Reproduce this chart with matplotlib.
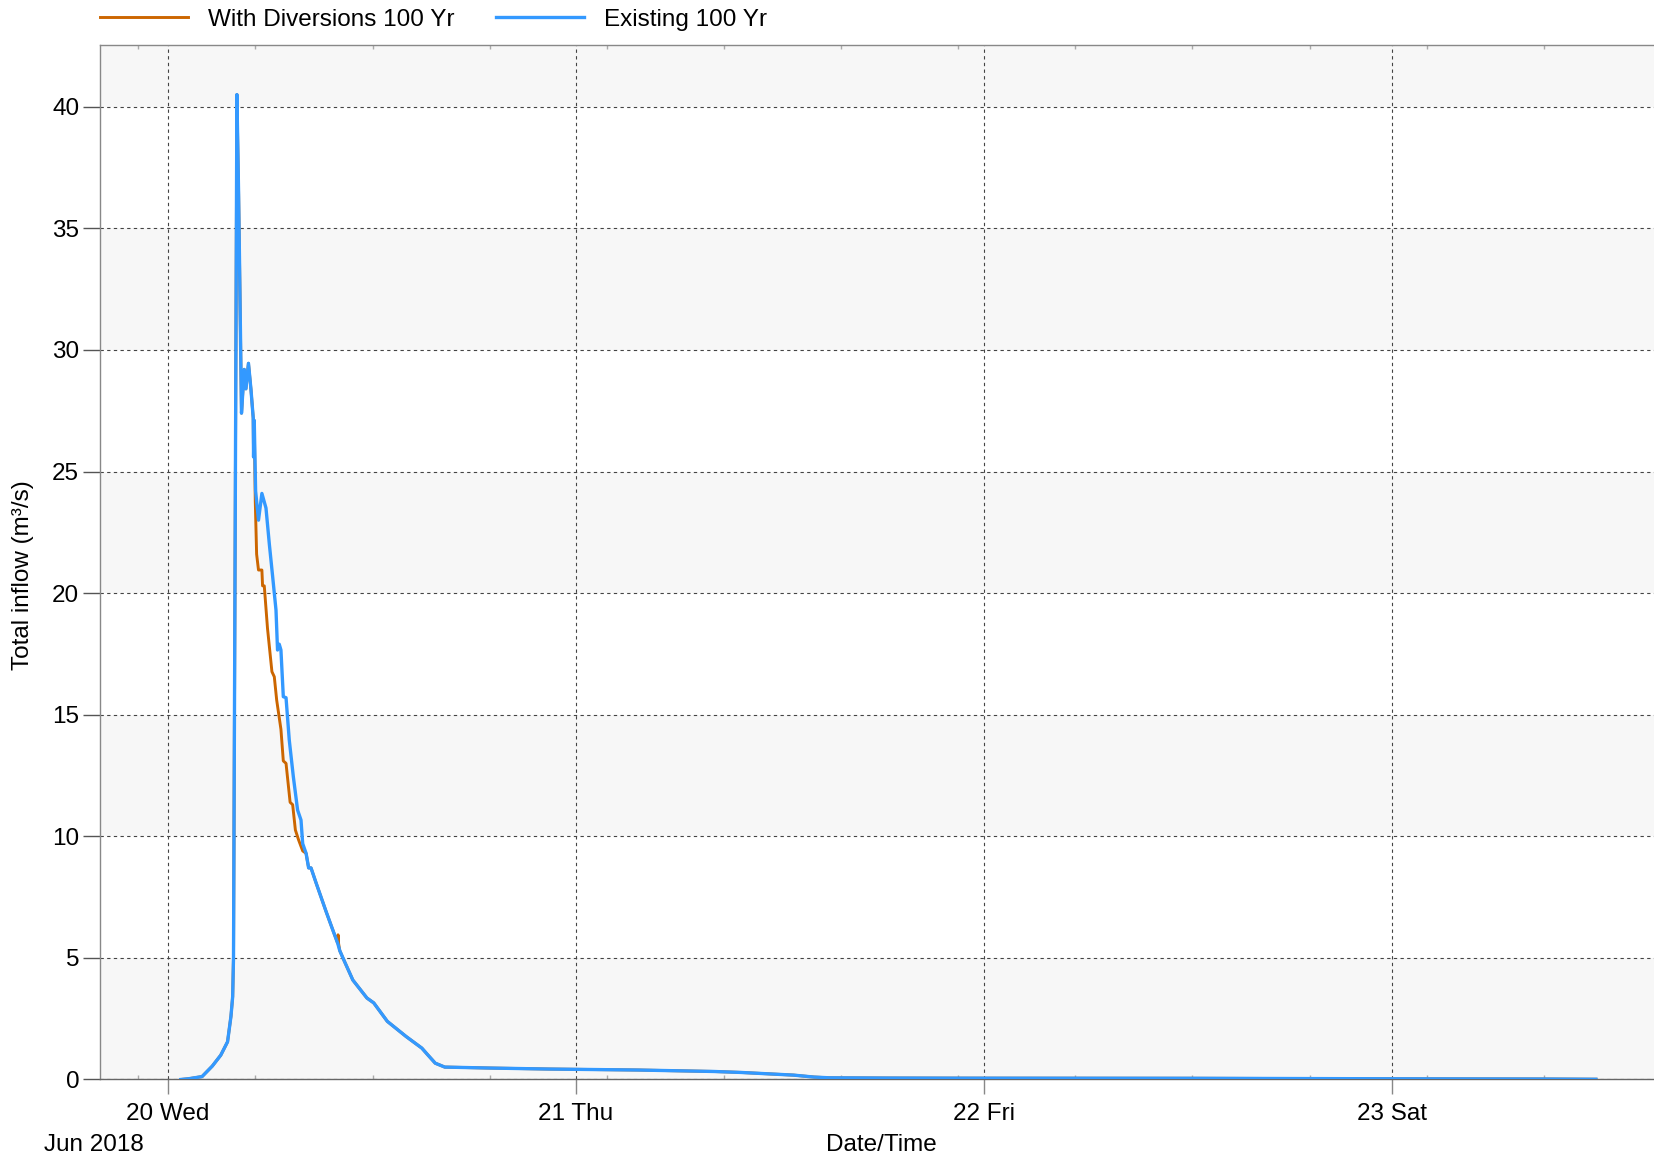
import numpy as np
import pandas as pd
import matplotlib
matplotlib.use('Agg')
from matplotlib import pyplot as plt
import matplotlib.dates as mdates
from matplotlib.ticker import FixedLocator

plt.rcParams['font.family'] = ['Liberation Sans', 'DejaVu Sans']

start = pd.Timestamp('2018-06-20 00:00')

# Existing 100 Yr total inflow (m3/s), time in hours from 20 Jun 00:00
hours_existing = [0.75, 1.2, 2.0, 2.6, 3.1, 3.5, 3.7, 3.8, 3.85, 4.05,
                  4.15, 4.23, 4.32, 4.48, 4.58, 4.73, 4.88, 5.01, 5.03, 5.07,
                  5.15, 5.32, 5.52, 5.76, 5.96, 6.15, 6.35, 6.44, 6.54, 6.64,
                  6.78, 6.94, 7.13, 7.37, 7.62, 7.82, 7.92, 8.12, 8.27, 8.41,
                  8.71, 9.30, 9.69, 9.98, 10.1, 10.35, 10.87, 11.7, 12.1, 12.9,
                  14.0, 14.93, 15.27, 15.72, 16.28, 19.0, 22.4, 27.6, 32.1, 33.7,
                  36.8, 38.0, 38.9, 42.3, 46.6, 60.0, 72.0, 81.0, 84.0]
flow_existing = [0.0, 0.03, 0.12, 0.55, 1.0, 1.55, 2.6, 3.4, 5.0, 40.5,
                 36.4, 32.3, 27.4, 29.2, 28.4, 29.45, 28.35, 27.2, 25.6, 27.1,
                 24.2, 23.0, 24.1, 23.5, 22.0, 20.7, 19.3, 17.66, 17.9, 17.66,
                 15.74, 15.7, 13.96, 12.45, 11.08, 10.67, 9.7, 9.3, 8.7, 8.7,
                 8.08, 6.9, 6.15, 5.6, 5.3, 4.9, 4.09, 3.35, 3.15, 2.39,
                 1.77, 1.29, 1.02, 0.67, 0.51, 0.47, 0.43, 0.39, 0.33, 0.29,
                 0.18, 0.1, 0.07, 0.06, 0.055, 0.05, 0.03, 0.02, 0.01]

# With Diversions 100 Yr: lower on the falling limb, otherwise the same run
hours_diverted = [5.13, 5.21, 5.32, 5.52, 5.56, 5.66, 5.85, 6.11, 6.25, 6.39,
                  6.64, 6.78, 6.94, 7.18, 7.33, 7.49, 7.68, 7.92]
flow_diverted = [23.8, 21.6, 20.95, 20.95, 20.3, 20.3, 18.55, 16.77, 16.56, 15.6,
                 14.4, 13.1, 13.0, 11.4, 11.3, 10.26, 9.85, 9.4]
hours_spike = [10.0, 10.03]
flow_spike = [5.95, 5.6]

h_e = np.array(hours_existing)
q_e = np.array(flow_existing)
keep = (h_e <= 5.07) | (h_e >= 8.12)
h_d = np.concatenate([h_e[keep], hours_diverted, hours_spike])
q_d = np.concatenate([q_e[keep], flow_diverted, flow_spike])
order = np.argsort(h_d)
h_d, q_d = h_d[order], q_d[order]

t_e = (start + pd.to_timedelta(h_e, unit='h')).values
t_d = (start + pd.to_timedelta(h_d, unit='h')).values

fig = plt.figure(figsize=(16.54, 11.62), dpi=100)
ax = fig.add_axes([0.0605, 0.071, 0.9455, 0.8905])

ymax = 42.55
# alternating shaded bands between the gridlines
ax.set_facecolor('white')
for lo in [0, 10, 20, 30, 40]:
    ax.axhspan(lo, min(lo + 5, ymax), color='#f7f7f7', zorder=0, lw=0)

ax.plot(t_d, q_d, color='#cc6600', lw=2.1, label='With Diversions 100 Yr', zorder=3)
ax.plot(t_e, q_e, color='#3399ff', lw=2.4, label='Existing 100 Yr', zorder=4)

ax.set_xlim(start - pd.Timedelta(hours=4), start + pd.Timedelta(hours=88))
ax.set_ylim(0, ymax)
ax.set_yticks(np.arange(0, 41, 5))

ax.xaxis.set_major_locator(mdates.DayLocator())
ax.xaxis.set_major_formatter(mdates.DateFormatter('%d %a'))
minor_times = [start + pd.Timedelta(hours=float(h)) for h in np.arange(-1.75, 88, 6.89)]
ax.xaxis.set_minor_locator(FixedLocator(mdates.date2num(minor_times)))

ax.grid(True, which='major', linestyle=(0, (3, 3)), color='#444444', lw=0.8, zorder=1)
ax.set_axisbelow(True)

ax.tick_params(axis='y', which='major', direction='out', length=12, width=1,
               color='#555555', labelsize=17.5, pad=3)
ax.tick_params(axis='x', which='major', direction='out', length=11, width=1,
               color='#888888', labelsize=17.5, pad=6)
ax.tick_params(axis='x', which='minor', direction='in', length=3, width=1,
               color='#aaaaaa', top=True)
for s in ax.spines.values():
    s.set_color('#888888')
    s.set_linewidth(1)
ax.spines['bottom'].set_color('#666666')

fig.text(0.0139, 0.505, 'Total inflow (m³/s)', rotation=90, ha='center', va='center', fontsize=17.5)
fig.text(0.0266, 0.0146, 'Jun 2018', ha='left', va='center', fontsize=17.5)
fig.text(0.533, 0.0146, 'Date/Time', ha='center', va='center', fontsize=17.5)

ax.legend(loc='center left', bbox_to_anchor=(0.0605, 0.9828), bbox_transform=fig.transFigure,
          ncol=2, frameon=False, fontsize=17.5, borderpad=0, borderaxespad=0,
          handlelength=3.6, handletextpad=0.85, columnspacing=1.7)

fig.savefig('out.png', dpi=100)
